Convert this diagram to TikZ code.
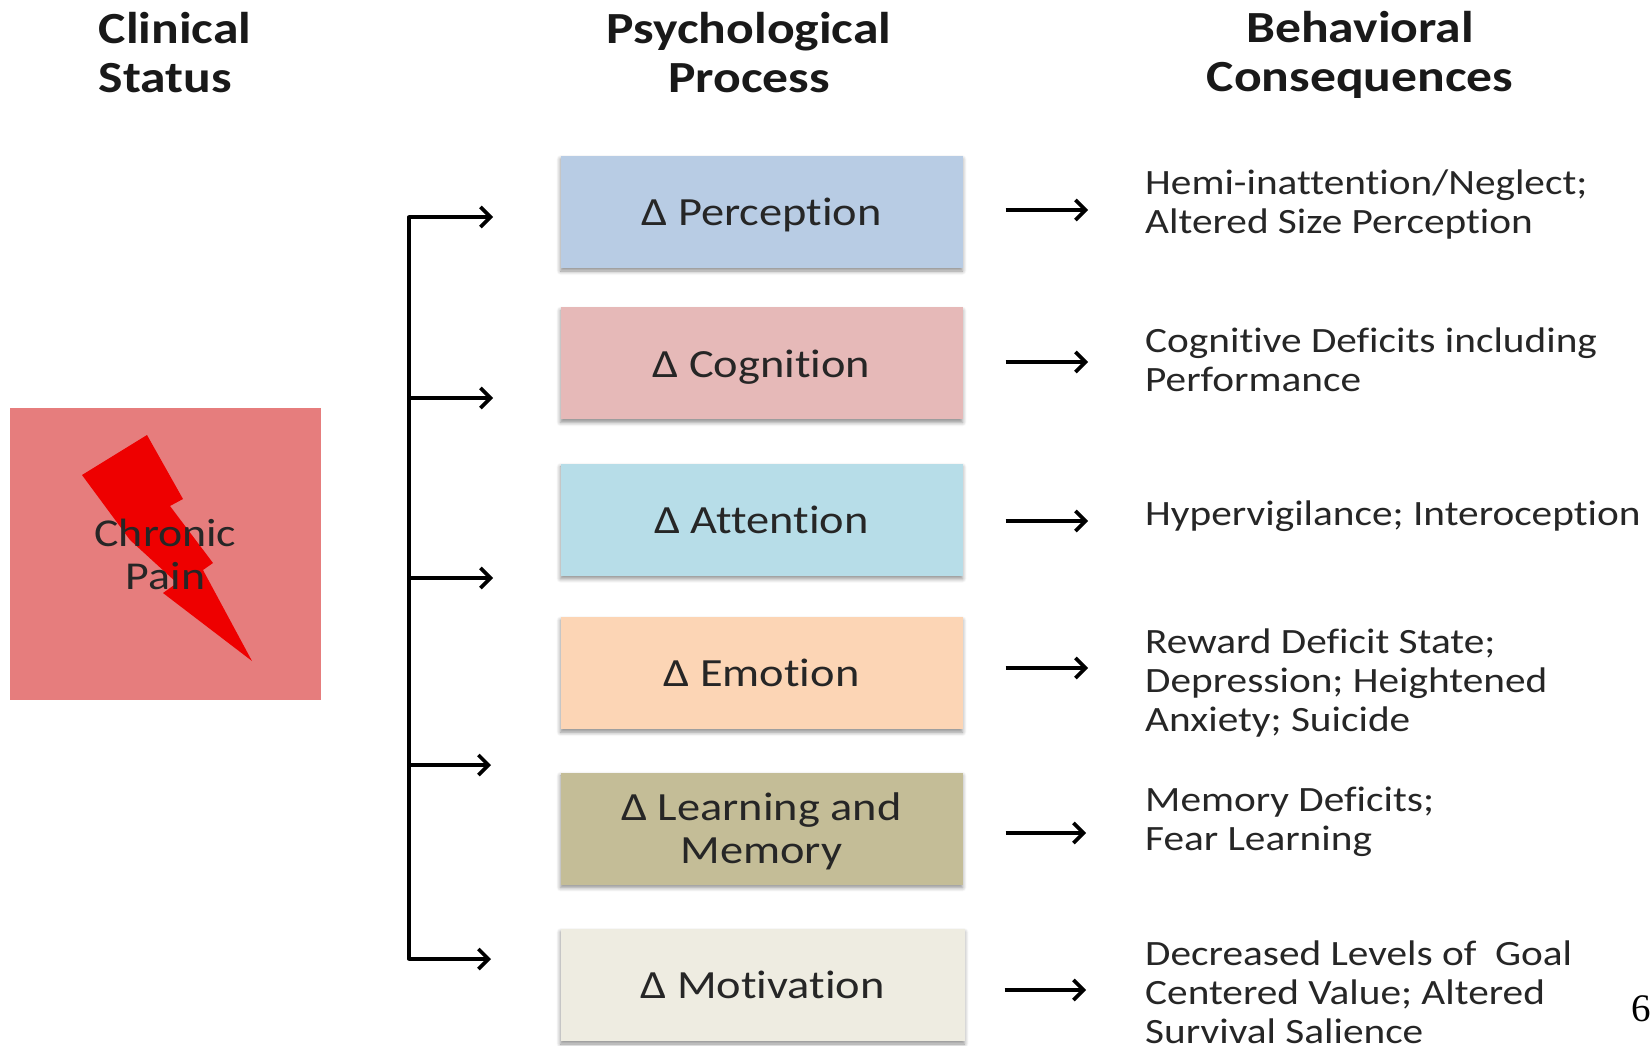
\documentclass[tikz,border=0pt]{standalone}
\usepackage{fontspec}
\setmainfont[FakeStretch=1.16,Ligatures=NoCommon]{Carlito}
\newfontfamily\pagefont{Liberation Serif}
\usetikzlibrary{shadows.blur,positioning,arrows.meta}
\definecolor{percblue}{HTML}{B8CCE4}
\definecolor{cogpink}{HTML}{E6B9B8}
\definecolor{attcyan}{HTML}{B7DDE8}
\definecolor{emopeach}{HTML}{FCD5B5}
\definecolor{memolive}{HTML}{C4BD97}
\definecolor{motcream}{HTML}{EEECE1}
\definecolor{painred}{HTML}{E67D7D}
\definecolor{boltred}{HTML}{EE0000}
\definecolor{inkdark}{HTML}{262626}
\def\Dl{Δ}

\begin{document}
\begin{tikzpicture}[x=1pt,y=-1pt,% every length here is a pixel of the reference
      every node/.style={
        align=center,     % so that "\\" breaks the line
        text=inkdark,
        font=\fontsize{40}{43}\selectfont
      },
      headline/.style={font=\fontsize{44.5}{49}\bfseries\selectfont,text=black!90},
      procbox/.style={
        rectangle,minimum width=402pt,minimum height=112pt,text depth=0pt,
        blur shadow={shadow xshift=0pt,shadow yshift=-3pt,shadow blur radius=4pt,shadow blur steps=6,shadow opacity=45}
      },
      effect/.style={align=left,inner sep=0pt,anchor=west,font=\fontsize{35.6}{39}\selectfont},
      pipe/.style={draw=black,line width=3.6pt,-{Straight Barb[length=10pt,width=20pt,line width=3.6pt]}}
    ]
    \useasboundingbox (0,0) rectangle (1652,1046);
    % headers
    \node[headline,align=left](H1) at (175,53){Clinical\\Status};
    \node[headline](H2) at (749,53){Psychological\\Process};
    \node[headline](H3) at (1360,55){Behavioral\\Consequences};
    % clinical status
    \node[rectangle,fill=painred,minimum width=311pt,minimum height=292pt](Pain) at (165.5,554){};
    \fill[boltred] (82,475) -- (147,435) -- (183,499) -- (170,506) -- (213,563) -- (203,570)
      -- (252,661) -- (163,593) -- (177,583) -- (130,540) -- cycle;
    \node[font=\fontsize{39.5}{43}\selectfont,text=black!85](PainText) at (165.5,554){Chronic\\Pain};
    % psychological process
    \node[procbox,fill=percblue](R1) at (761.5,212){\Dl\ Perception};
    \node[procbox,fill=cogpink](R2)[below=39pt of R1]{\Dl\ Cognition};
    \node[procbox,fill=attcyan](R3)[below=44pt of R2]{\Dl\ Attention};
    \node[procbox,fill=emopeach](R4)[below=41pt of R3]{\Dl\ Emotion};
    \node[procbox,fill=memolive](R5)[below=43pt of R4]{\Dl\ Learning and\\Memory};
    \node[procbox,fill=motcream,minimum width=404pt](R6)[below=44pt of R5,xshift=1pt]{\Dl\ Motivation};
    % behavioral consequences
    \node[effect](T1) at (1145,205){Hemi-inattention/Neglect;\\Altered Size Perception};
    \node[effect](T2) at (1145,360){Cognitive Deficits including\\Performance};
    \node[effect](T3) at (1145,516){Hypervigilance; Interoception};
    \node[effect](T4) at (1145,683){Reward Deficit State;\\Depression; Heightened\\Anxiety; Suicide};
    \node[effect](T5) at (1145,822){Memory Deficits;\\Fear Learning};
    \node[effect](T6) at (1145,992){Decreased Levels of\ \ Goal\\Centered Value; Altered\\Survival Salience};
    \node[font=\pagefont\fontsize{39}{39}\selectfont,text=black,inner sep=0pt](Page) at (1641,1009){6};
    % feed line with its branches
    \coordinate (B1) at (409,217);
    \coordinate (B2) at (409,398);
    \coordinate (B3) at (409,578);
    \coordinate (B4) at (409,765);
    \coordinate (B5) at (409,959);
    \draw[line width=3.6pt,line cap=round] (B1) -- (B5);
    \coordinate (E1) at (493,217);
    \coordinate (E2) at (493,398);
    \coordinate (E3) at (493,578);
    \coordinate (E4) at (491,765);
    \coordinate (E5) at (491,959);
    \draw[pipe] (B1) -- (E1);
    \draw[pipe] (B2) -- (E2);
    \draw[pipe] (B3) -- (E3);
    \draw[pipe] (B4) -- (E4);
    \draw[pipe] (B5) -- (E5);
    % box to text
    \coordinate (A1) at (1088,210);
    \coordinate (A2) at (1088,362);
    \coordinate (A3) at (1088,521);
    \coordinate (A4) at (1088,668);
    \coordinate (A5) at (1086,833);
    \coordinate (A6) at (1086,990);
    \draw[pipe] ([xshift=43pt]R1.east |- A1) -- (A1);
    \draw[pipe] ([xshift=43pt]R2.east |- A2) -- (A2);
    \draw[pipe] ([xshift=43pt]R3.east |- A3) -- (A3);
    \draw[pipe] ([xshift=43pt]R4.east |- A4) -- (A4);
    \draw[pipe] ([xshift=43pt]R5.east |- A5) -- (A5);
    \draw[pipe] ([xshift=40pt]R6.east |- A6) -- (A6);
  \end{tikzpicture}
\end{document}
